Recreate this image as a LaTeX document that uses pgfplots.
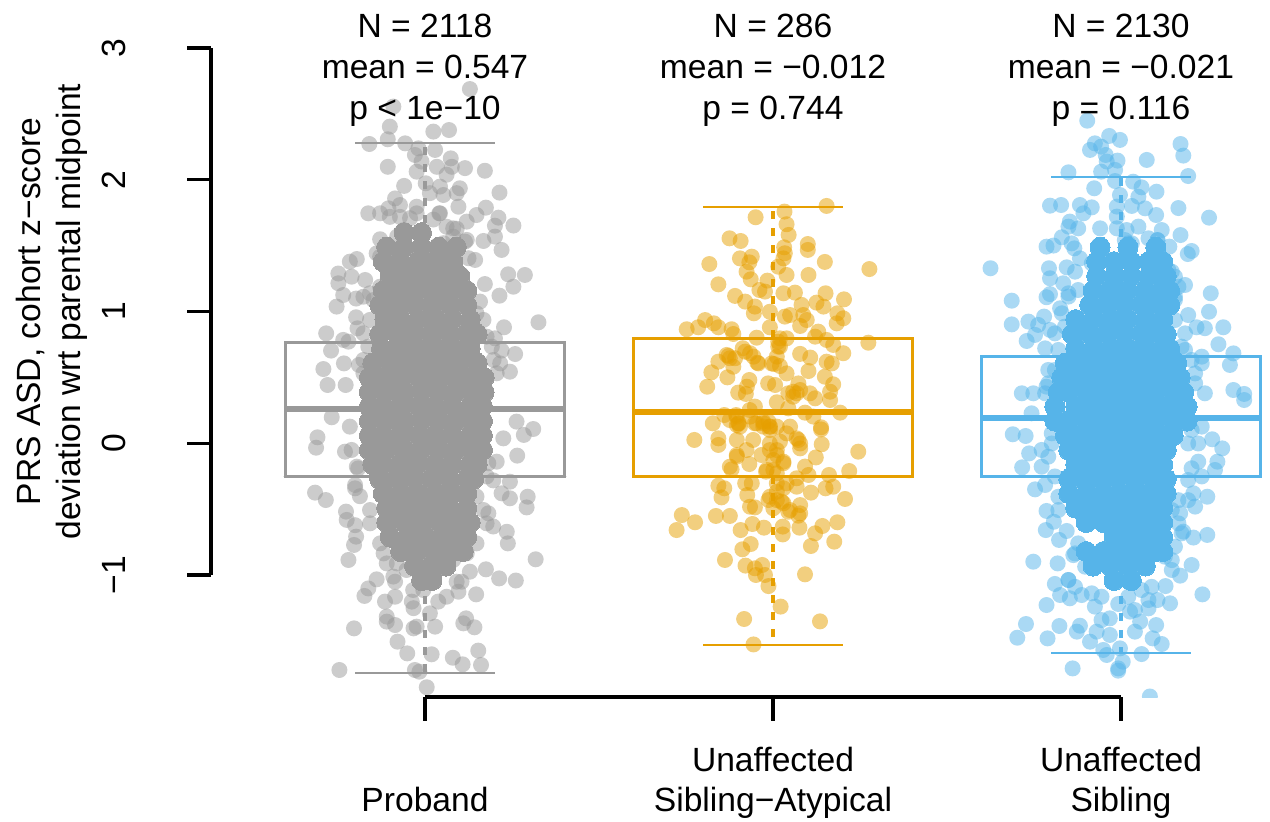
\documentclass[border=0pt]{standalone}
\usepackage{fontspec}
\setmainfont{Liberation Sans}
\usepackage{pgfplots}
\pgfplotsset{compat=1.18}
\definecolor{cA}{HTML}{999999}
\definecolor{cB}{HTML}{E69F00}
\definecolor{cC}{HTML}{56B4E9}
\newcommand{\lab}{\fontsize{16.8}{20}\selectfont}
\pgfplotsset{
  pts/.style={only marks, mark=*, mark size=4pt, mark options={draw=#1, fill=#1, draw opacity=0, fill opacity=0.5, line width=0pt}},
  core/.style={only marks, mark=*, mark size=5pt, mark options={draw=#1, fill=#1, line width=0pt}},
  boxl/.style={draw=#1, line width=1.5pt, no marks, sharp plot, line cap=round, line join=miter},
  medl/.style={draw=#1, line width=3.4pt, no marks, sharp plot},
  capl/.style={draw=#1, line width=1.4pt, no marks, sharp plot},
  whis/.style={draw=#1, line width=1.6pt, no marks, sharp plot, dash pattern=on 4pt off 4.5pt},
}
\begin{document}
\begin{tikzpicture}
\path[use as bounding box] (0,0) rectangle (635pt,410.5pt);
\begin{axis}[at={(0pt,62pt)}, anchor=south west, scale only axis, width=635pt, height=348.5pt,
  xmin=-0.2213, xmax=3.4282, ymin=-1.924, ymax=3.366, axis lines=none, clip marker paths=true,
  after end axis/.code={
    \node[font=\fontsize{16.8}{20.5}\selectfont, align=center, anchor=center] at (axis cs:1,2.83) {N = 2118\\mean = 0.547\\p < 1e−10};
    \node[font=\fontsize{16.8}{20.5}\selectfont, align=center, anchor=center] at (axis cs:2,2.83) {N = 286\\mean = −0.012\\p = 0.744};
    \node[font=\fontsize{16.8}{20.5}\selectfont, align=center, anchor=center] at (axis cs:3,2.83) {N = 2130\\mean = −0.021\\p = 0.116};
  }]
% Group 1 box
\addplot[boxl=cA] coordinates {(0.598,-0.254)(1.402,-0.254)(1.402,0.770)(0.598,0.770)(0.598,-0.254)(1.402,-0.254)};
\addplot[medl=cA] coordinates {(0.598,0.262)(1.402,0.262)};
\addplot[whis=cA] coordinates {(1,0.770)(1,2.281)};
\addplot[whis=cA] coordinates {(1,-0.254)(1,-1.742)};
\addplot[capl=cA] coordinates {(0.8,2.281)(1.2,2.281)};
\addplot[capl=cA] coordinates {(0.8,-1.742)(1.2,-1.742)};
% Group 1 dense centre
\addplot[core=cA] coordinates {
(.94,1.60)(.99,1.60)
(.89,1.49)(.94,1.49)(.99,1.49)(1.04,1.49)(1.09,1.49)
(.88,1.38)(.93,1.38)(.98,1.38)(1.03,1.38)(1.08,1.38)
(.90,1.27)(.95,1.27)(1.00,1.27)(1.05,1.27)(1.10,1.27)
(.88,1.16)(.93,1.16)(.98,1.16)(1.03,1.16)(1.08,1.16)(1.12,1.16)
(.87,1.05)(.92,1.05)(.97,1.05)(1.02,1.05)(1.07,1.05)(1.12,1.05)
(.885,.94)(.93,.94)(.98,.94)(1.03,.94)(1.08,.94)(1.13,.94)
(.87,.83)(.92,.83)(.97,.83)(1.02,.83)(1.07,.83)(1.12,.83)(1.15,.83)
(.875,.72)(.93,.72)(.98,.72)(1.03,.72)(1.08,.72)(1.13,.72)
(.85,.61)(.90,.61)(.95,.61)(1.00,.61)(1.05,.61)(1.10,.61)(1.15,.61)
(.84,.50)(.88,.50)(.93,.50)(.98,.50)(1.03,.50)(1.08,.50)(1.13,.50)(1.17,.50)
(.84,.39)(.89,.39)(.94,.39)(.99,.39)(1.04,.39)(1.09,.39)(1.14,.39)(1.17,.39)
(.84,.28)(.88,.28)(.93,.28)(.98,.28)(1.03,.28)(1.08,.28)(1.13,.28)(1.165,.28)
(.84,.17)(.89,.17)(.94,.17)(.99,.17)(1.04,.17)(1.09,.17)(1.14,.17)(1.165,.17)
(.84,.06)(.88,.06)(.93,.06)(.98,.06)(1.03,.06)(1.08,.06)(1.13,.06)(1.165,.06)
(.84,-.05)(.89,-.05)(.94,-.05)(.99,-.05)(1.04,-.05)(1.09,-.05)(1.14,-.05)(1.165,-.05)
(.85,-.16)(.88,-.16)(.93,-.16)(.98,-.16)(1.03,-.16)(1.08,-.16)(1.13,-.16)(1.15,-.16)
(.87,-.27)(.92,-.27)(.97,-.27)(1.02,-.27)(1.07,-.27)(1.12,-.27)(1.14,-.27)
(.88,-.38)(.93,-.38)(.98,-.38)(1.03,-.38)(1.08,-.38)(1.12,-.38)
(.89,-.49)(.92,-.49)(.97,-.49)(1.02,-.49)(1.07,-.49)(1.12,-.49)
(.89,-.60)(.94,-.60)(.99,-.60)(1.04,-.60)(1.09,-.60)(1.13,-.60)
(.90,-.71)(.95,-.71)(1.00,-.71)(1.05,-.71)(1.10,-.71)(1.12,-.71)
(.93,-.82)(.98,-.82)(1.03,-.82)(1.08,-.82)(1.11,-.82)
(.97,-.93)(1.02,-.93)(1.06,-.93)
(.99,-1.04)(1.02,-1.04)
};
% Group 1 points
\addplot[pts=cA] coordinates {
(1.129,2.69)(.909,2.557)(.899,2.405)(1.024,2.367)(1.069,2.379)(.893,2.309)(.840,2.273)(.943,2.278)(.981,2.24)(1.029,2.228)
(.971,2.19)(.990,2.14)(1.074,2.164)(.893,2.10)(.976,2.063)(1.034,2.10)(1.077,2.10)(1.115,2.09)(1.172,2.07)(1.062,2.04)
(.94,1.955)(1.002,1.975)(1.043,1.95)(1.10,1.937)(1.214,1.904)(.914,1.86)(1.014,1.90)(1.053,1.886)(1.091,1.90)(1.096,1.797)
(.837,1.747)(.871,1.747)(.895,1.785)(.928,1.81)(.976,1.797)(1.043,1.747)(1.175,1.79)(1.148,1.734)(1.211,1.714)(1.254,1.654)
(1.12,1.684)(1.081,1.633)(1.201,1.653)(1.201,1.57)(1.168,1.537)(1.22,1.469)(.871,1.55)(1.053,1.52)(1.115,1.532)(1.144,1.393)
(.804,1.40)(.784,1.38)(.751,1.29)(.751,1.216)(.789,1.266)(.828,1.241)(1.239,1.284)(1.287,1.279)(1.254,1.19)(1.172,1.21)
(1.214,1.122)(.765,1.127)(.802,1.10)(.746,1.039)(.802,.958)(1.326,.92)(1.227,.882)(1.201,.798)(.806,.874)(.716,.836)
(.765,.786)(.78,.773)(1.259,.679)(1.22,.705)(.73,.705)(.767,.608)(.81,.596)(.708,.565)(1.244,.545)(.72,.444)(.772,.444)
(.732,.199)(.784,.128)(1.263,.166)(1.311,.11)(1.284,.065)(1.225,.039)(.691,.047)(.687,-.032)(.770,-.062)(.789,-.049)
(1.265,-.092)(1.206,-.138)(1.182,-.15)(.808,-.189)(1.244,-.29)(.684,-.373)(.715,-.429)(.799,-.34)(.813,-.40)(1.22,-.378)
(1.244,-.416)(1.295,-.404)(1.292,-.485)(.773,-.517)(.775,-.58)(.799,-.62)(1.182,-.53)(1.196,-.63)(1.235,-.67)(1.238,-.758)
(.802,-.707)(.796,-.77)(.78,-.884)(1.318,-.879)(.89,-.91)(1.175,-.955)(1.129,-.973)(1.213,-1.024)(1.261,-1.04)(.861,-1.031)
(.837,-1.10)(.826,-1.157)(.914,-1.049)(.914,-1.163)(.885,-1.20)(.962,-1.20)(.967,-1.25)(1.038,-1.2)(1.062,-1.163)(1.096,-1.125)
(1.105,-1.049)(1.147,-1.145)(1.014,-1.289)(.89,-1.314)(.89,-1.352)(.914,-1.378)(.967,-1.403)(.976,-1.39)(1.029,-1.39)(1.118,-1.327)
(1.11,-1.365)(1.142,-1.395)(.796,-1.403)(.921,-1.504)(.949,-1.593)(1.019,-1.60)(1.08,-1.626)(1.153,-1.572)(1.108,-1.676)(1.161,-1.681)
(.754,-1.719)(.971,-1.719)(.984,-1.732)(1.005,-1.85)
(.899,1.72)(.928,1.72)(.957,1.71)(.976,1.747)(1.024,1.70)(1.041,1.747)(1.062,1.645)(1.091,1.63)(1.12,1.545)(1.081,1.57)
(.939,1.62)(.92,1.57)(.861,1.443)(.871,1.418)(1.125,1.406)(.823,1.114)(.852,1.089)(.871,1.19)(.842,1.14)(1.158,1.077)
(1.148,.988)(1.168,.938)(1.11,1.14)(.842,.938)(.823,.836)(.837,.735)(.823,.634)(.823,.533)(1.192,.735)(1.177,.811)
(1.197,.634)(1.206,.533)(1.216,.608)(1.148,-.403)(1.168,-.505)(1.177,-.606)(1.148,-.758)(.842,-.505)(.842,-.606)(.871,-.758)
(.881,-.834)(.919,-.91)(.947,-.96)(1.081,-.884)(1.12,-.834)(.995,-1.112)(1.091,-1.049)(.966,-1.112)(.909,-1.01)(.799,-.315)
(.804,-.176)(1.177,-.25)(1.196,-.28)
};
% Group 2 box
\addplot[boxl=cB] coordinates {(1.6,-0.247)(2.4,-0.247)(2.4,0.80)(1.6,0.80)(1.6,-0.247)(2.4,-0.247)};
\addplot[medl=cB] coordinates {(1.6,0.239)(2.4,0.239)};
\addplot[whis=cB] coordinates {(2,0.80)(2,1.795)};
\addplot[whis=cB] coordinates {(2,-0.247)(2,-1.529)};
\addplot[capl=cB] coordinates {(1.8,1.795)(2.2,1.795)};
\addplot[capl=cB] coordinates {(1.8,-1.529)(2.2,-1.529)};
\addplot[pts=cB] coordinates {
(2.154,1.803)(2.033,1.76)(1.95,1.717)(2.039,1.664)(2.045,1.583)(1.875,1.557)(1.907,1.537)(2.10,1.514)(2.10,1.469)(2.032,1.489)
(2.034,1.444)(2.03,1.405)(1.939,1.418)(1.905,1.405)(1.932,1.375)(1.924,1.304)(1.817,1.362)(2.149,1.378)(2.015,1.342)(2.277,1.324)
(2.039,1.279)(2.102,1.279)(1.936,1.246)(1.843,1.208)(1.984,1.236)(1.961,1.165)(1.977,1.153)(2.03,1.14)(2.063,1.145)(2.151,1.14)
(1.891,1.12)(2.204,1.094)(1.92,1.077)(1.948,1.039)(2.125,1.069)(2.145,1.039)(2.082,1.052)(1.945,.988)(1.991,1.0)(2.034,.963)
(2.049,.975)(2.087,.975)(2.185,.988)(2.202,.95)(2.183,.912)(2.078,.892)(2.097,.937)(1.805,.937)(1.785,.882)(1.752,.867)
(1.83,.912)(1.843,.882)(1.881,.867)(1.886,.831)(1.991,.882)(2.13,.849)(2.121,.811)(1.953,.803)(2.039,.798)(2.02,.798)
(2.015,.735)(2.274,.765)(2.154,.786)(2.173,.748)(2.202,.685)(1.913,.723)(1.872,.664)(1.891,.647)(1.934,.685)(2.078,.68)
(2.107,.652)(2.154,.621)(2.169,.608)(1.843,.621)(1.955,.613)(2.003,.603)(2.02,.588)(1.823,.54)(1.886,.583)(1.869,.502)
(2.102,.55)(2.039,.532)(2.149,.507)(1.932,.482)(1.811,.431)(1.925,.431)(1.986,.456)(2.006,.444)(2.173,.449)(1.90,.386)
(1.922,.376)(2.073,.456)(2.058,.393)(2.068,.381)(2.106,.381)(2.164,.393)(2.121,.343)(2.164,.33)(2.011,.313)(1.948,.28)
(2.044,.267)(2.193,.234)(2.092,.234)(1.86,.216)(1.894,.216)(1.933,.254)(2.116,.204)(1.827,.153)(1.902,.153)(1.953,.153)
(1.987,.166)(2.138,.123)(1.896,.14)(1.972,.128)(1.991,.128)(2.049,.128)(2.138,.107)(1.774,.027)(1.843,.039)(1.843,-.011)
(1.896,.027)(1.943,.027)(1.991,0)(2.02,.014)(2.073,.027)(2.14,-.006)(2.078,-.037)(2.245,-.062)(1.896,-.10)(1.967,-.087)
(2.011,-.087)(2.03,-.138)(2.123,-.106)(1.932,-.156)(1.881,-.196)(2.092,-.175)(2.001,-.201)(1.98,-.214)(2.219,-.209)(2.161,-.239)
(2.102,-.239)(2.068,-.264)(1.92,-.302)(1.939,-.302)(1.843,-.32)(1.86,-.34)(2.173,-.328)(2.151,-.34)(2.109,-.373)(2.03,-.34)
(2.011,-.366)(1.926,-.391)(1.852,-.409)(2.207,-.421)(1.987,-.429)(2.025,-.442)(2.078,-.467)(1.934,-.48)(1.948,-.485)(2.001,-.492)
(2.044,-.518)(2.073,-.548)(1.738,-.543)(1.836,-.55)(1.876,-.55)(1.776,-.598)(1.941,-.611)(2.185,-.598)(2.142,-.626)(1.723,-.657)
(1.907,-.657)(1.974,-.639)(2.028,-.631)(2.076,-.639)(2.121,-.682)(2.028,-.69)(2.176,-.745)(2.109,-.778)(1.936,-.763)(1.912,-.803)
(1.862,-.884)(1.921,-.927)(1.969,-.922)(1.948,-.947)(1.951,-.998)(1.977,-.998)(2.092,-.993)(1.987,-1.082)(2.022,-1.238)(1.917,-1.332)
(2.135,-1.35)(1.944,-1.525)
(1.867,.672)(1.876,.647)(1.92,.697)(1.944,.659)(1.958,.608)(1.996,.608)(2.015,.773)(2.02,.735)(2.011,.659)(2.044,.381)
(2.058,.355)(2.078,.406)(1.896,.204)(1.9,.153)(1.972,.153)(1.991,.128)(1.934,.204)(1.876,.178)(1.905,.128)(1.948,.153)
(1.972,.166)(1.991,.102)(2.011,.128)(2.039,.077)(2.068,.039)(2.078,0)(1.991,-.05)(2.011,-.05)(2.001,-.125)(2.03,-.15)
(1.982,-.2)(2.011,-.226)(1.896,-.087)(1.924,-.05)(1.876,-.176)(2.011,-.302)(2.039,-.302)(1.991,-.404)(2.011,-.43)(2.03,-.454)
(2.049,-.505)(2.068,-.328)(2.078,-.53)
};
% Group 3 box
\addplot[boxl=cC] coordinates {(2.6,-0.254)(3.4,-0.254)(3.4,0.664)(2.6,0.664)(2.6,-0.254)(3.4,-0.254)};
\addplot[medl=cC] coordinates {(2.6,0.194)(3.4,0.194)};
\addplot[whis=cC] coordinates {(3,0.664)(3,2.023)};
\addplot[whis=cC] coordinates {(3,-0.254)(3,-1.59)};
\addplot[capl=cC] coordinates {(2.8,2.023)(3.2,2.023)};
\addplot[capl=cC] coordinates {(2.8,-1.59)(3.2,-1.59)};
\addplot[core=cC] coordinates {
(2.94,1.49)(3.02,1.49)(3.10,1.49)
(2.93,1.38)(2.98,1.38)(3.03,1.38)(3.08,1.38)(3.12,1.38)
(2.93,1.27)(2.98,1.27)(3.03,1.27)(3.08,1.27)(3.13,1.27)
(2.92,1.16)(2.97,1.16)(3.02,1.16)(3.07,1.16)(3.12,1.16)(3.14,1.16)
(2.91,1.05)(2.96,1.05)(3.01,1.05)(3.06,1.05)(3.11,1.05)(3.14,1.05)
(2.87,.94)(2.92,.94)(2.97,.94)(3.02,.94)(3.07,.94)(3.12,.94)
(2.86,.83)(2.91,.83)(2.96,.83)(3.01,.83)(3.06,.83)(3.11,.83)(3.13,.83)
(2.87,.72)(2.92,.72)(2.97,.72)(3.02,.72)(3.07,.72)(3.12,.72)(3.14,.72)
(2.84,.61)(2.89,.61)(2.94,.61)(2.99,.61)(3.04,.61)(3.09,.61)(3.14,.61)(3.16,.61)
(2.83,.50)(2.87,.50)(2.92,.50)(2.97,.50)(3.02,.50)(3.07,.50)(3.12,.50)(3.17,.50)
(2.82,.39)(2.85,.39)(2.90,.39)(2.95,.39)(3.00,.39)(3.05,.39)(3.10,.39)(3.15,.39)(3.18,.39)
(2.81,.28)(2.87,.28)(2.92,.28)(2.97,.28)(3.02,.28)(3.07,.28)(3.12,.28)(3.17,.28)(3.19,.28)
(2.81,.17)(2.85,.17)(2.90,.17)(2.95,.17)(3.00,.17)(3.05,.17)(3.10,.17)(3.15,.17)(3.19,.17)
(2.84,.06)(2.87,.06)(2.92,.06)(2.97,.06)(3.02,.06)(3.07,.06)(3.12,.06)(3.15,.06)
(2.85,-.05)(2.90,-.05)(2.95,-.05)(3.00,-.05)(3.05,-.05)(3.10,-.05)(3.13,-.05)
(2.87,-.16)(2.92,-.16)(2.97,-.16)(3.02,-.16)(3.07,-.16)(3.12,-.16)
(2.85,-.27)(2.89,-.27)(2.94,-.27)(2.99,-.27)(3.04,-.27)(3.09,-.27)(3.13,-.27)
(2.85,-.38)(2.90,-.38)(2.95,-.38)(3.00,-.38)(3.05,-.38)(3.10,-.38)(3.13,-.38)
(2.87,-.49)(2.92,-.49)(2.97,-.49)(3.02,-.49)(3.07,-.49)(3.12,-.49)
(2.90,-.60)(2.95,-.60)(3.00,-.60)(3.05,-.60)(3.10,-.60)(3.12,-.60)
(2.98,-.71)(3.03,-.71)(3.08,-.71)(3.12,-.71)
(2.90,-.82)(2.95,-.82)(3.00,-.82)(3.05,-.82)(3.10,-.82)(3.12,-.82)
(2.92,-.93)(2.97,-.93)(3.02,-.93)(3.07,-.93)
(2.98,-1.04)(3.03,-1.04)
};
\addplot[pts=cC] coordinates {
(2.903,2.45)(2.966,2.334)(2.997,2.304)(2.925,2.278)(2.911,2.228)(2.943,2.253)(3.171,2.273)(3.179,2.185)(3.074,2.152)(2.956,2.19)
(2.959,2.14)(2.99,2.147)(2.849,2.058)(2.943,2.063)(2.983,2.076)(3.193,2.03)(2.983,1.992)(3.035,1.987)(2.923,1.937)(3.059,1.944)
(3.102,1.911)(2.997,1.886)(3.05,1.873)(2.796,1.805)(2.828,1.81)(2.882,1.81)(2.916,1.792)(2.988,1.798)(2.892,1.747)(3.031,1.803)
(3.069,1.785)(3.165,1.787)(3.101,1.734)(3.253,1.714)(2.988,1.722)(2.853,1.684)(2.849,1.646)(2.877,1.633)(2.94,1.633)(3.05,1.646)
(2.988,1.633)(3.016,1.62)(3.117,1.62)(3.171,1.582)(2.83,1.565)(3.079,1.557)(3.105,1.544)(2.786,1.494)(2.806,1.502)(2.858,1.519)
(2.866,1.481)(3.139,1.494)(3.203,1.461)(3.192,1.438)(3.105,1.481)(2.944,1.443)(3.021,1.519)(2.882,1.405)(3.074,1.367)(2.625,1.33)
(2.793,1.33)(2.844,1.337)(2.868,1.304)(3.146,1.304)(2.796,1.254)(2.834,1.216)(3.184,1.203)(2.796,1.134)(2.786,1.11)(2.849,1.14)
(3.258,1.14)(2.686,1.084)(2.825,1.026)(3.155,1.115)(3.253,1.0)(3.193,.975)(2.779,.963)(2.734,.925)(2.686,.904)(2.762,.90)
(3.217,.882)(3.241,.875)(3.294,.882)(2.796,.862)(2.753,.824)(2.729,.778)(3.28,.753)(2.782,.722)(3.323,.684)(3.232,.659)
(3.184,.71)(3.313,.596)(2.791,.558)(3.232,.608)(2.715,.381)(2.748,.381)(2.786,.431)(3.241,.381)(3.323,.406)(3.354,.376)
(3.213,.457)(2.743,.229)(3.354,.33)(2.689,.07)(2.726,.057)(2.736,-.075)(2.716,-.181)(2.772,-.176)(2.801,0)(2.791,-.1)
(2.772,-.049)(3.232,.128)(3.262,.032)(3.291,-.037)(3.277,-.138)(3.27,-.201)(3.222,0)(3.222,-.138)(3.193,0)(3.203,-.188)
(2.753,-.348)(2.782,-.315)(3.248,-.404)(3.208,-.378)(3.213,-.479)(2.786,-.512)(2.807,-.594)(2.784,-.657)(2.844,-.664)(2.822,-.732)
(3.17,-.53)(3.179,-.669)(3.208,-.714)(3.248,-.694)(2.748,-.897)(2.818,-.91)(2.863,-.847)(3.203,-.922)(3.146,-.885)(3.146,-.96)
(3.17,-1.003)(2.81,-1.066)(2.849,-1.036)(3.128,-1.082)(3.234,-1.145)(2.825,-1.15)(2.786,-1.226)(2.853,-1.175)(2.887,-1.15)(2.925,-1.238)
(3.141,-1.213)(3.105,-1.188)(2.992,-1.218)(3.026,-1.276)(3.04,-1.264)(3.079,-1.251)(2.727,-1.37)(2.823,-1.385)(2.882,-1.383)(2.873,-1.428)
(2.944,-1.34)(2.968,-1.327)(2.93,-1.428)(3.055,-1.352)(3.101,-1.378)(3.04,-1.428)(2.702,-1.474)(2.789,-1.479)(2.911,-1.504)(2.968,-1.453)
(3.091,-1.479)(3.117,-1.522)(2.949,-1.567)(2.997,-1.555)(3.059,-1.598)(2.959,-1.605)(3.005,-1.656)(2.861,-1.707)(2.992,-1.707)(2.992,-1.724)
(3.083,-1.92)
(2.944,1.469)(2.916,1.367)(3.011,1.544)(3.031,1.519)(3.105,1.544)(3.1,1.469)(3.136,1.317)(3.155,1.266)(3.165,1.19)(3.155,1.09)
(3.126,1.039)(3.155,.937)(3.184,.836)(3.174,.735)(2.83,.988)(2.849,1.115)(2.877,1.165)(2.839,.887)(2.81,.836)(2.82,.71)
(2.81,.558)(2.791,.457)(2.782,.381)(3.213,.532)(3.203,.634)(3.146,-.505)(3.165,-.606)(3.174,-.682)(3.155,-.783)(3.126,-.859)
(2.877,-.758)(2.868,-.834)(2.897,-.935)(2.849,-1.036)(2.868,-1.088)(2.916,-1.137)(2.944,-1.163)(3.059,-1.112)(3.088,-1.088)(3.021,-1.163)
(3.079,-1.188)(2.82,-.505)(2.82,-.404)(3.165,-.43)(3.193,-.43)(2.81,-.25)(3.193,-.277)(3.232,-.25)(2.801,.077)(3.203,.102)
};
\end{axis}
% y axis
\begin{axis}[at={(105.5pt,123pt)}, anchor=south west, scale only axis, width=1pt, height=263.5pt,
  ymin=-1, ymax=3, xmin=0, xmax=1, axis y line=left, axis x line=none, axis line style={-, line width=1.7pt, black},
  ytick={-1,0,1,2,3}, yticklabels={−1,0,1,2,3}, tick align=outside, major tick length=12pt,
  tick style={black, line width=1.7pt},
  yticklabel style={font=\lab, rotate=90, anchor=south, yshift=27pt},
  ylabel={PRS ASD, cohort z−score\\deviation wrt parental midpoint},
  every axis y label/.style={at={(axis description cs:-79.5,0.5)}, rotate=90, anchor=center, align=center, font=\lab}]
\end{axis}
% x axis
\begin{axis}[at={(212.5pt,62pt)}, anchor=south west, scale only axis, width=348pt, height=1pt,
  xmin=1, xmax=3, ymin=0, ymax=1, axis x line=bottom, axis y line=none, axis line style={-, line width=1.7pt, black},
  xtick={1,2,3}, xticklabels={Proband\strut,{Unaffected\\Sibling−Atypical\strut},{Unaffected\\Sibling\strut}},
  tick align=outside, major tick length=12pt, tick style={black, line width=1.7pt},
  xticklabel style={font=\lab, align=center, anchor=south, yshift=-55pt}]
\end{axis}
\end{tikzpicture}
\end{document}
